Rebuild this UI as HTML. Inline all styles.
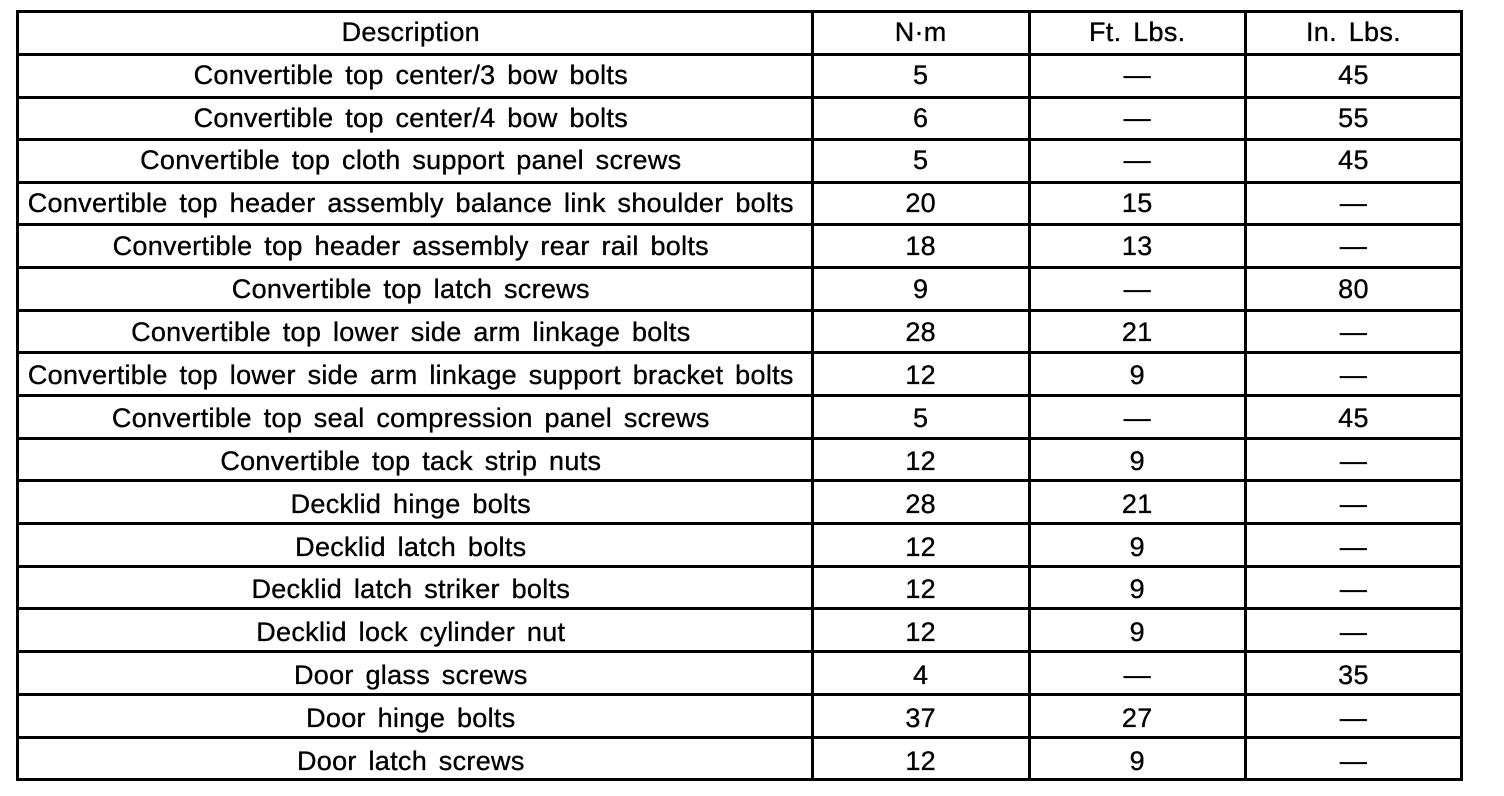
<!DOCTYPE html>
<html><head><meta charset="utf-8"><style>
html,body{margin:0;padding:0;background:#fff;}
body{width:1504px;height:796px;position:relative;overflow:hidden;font-family:"Liberation Sans",Arial,sans-serif;font-size:27px;color:#000;}
.h{position:absolute;left:15.8px;width:1447.2px;height:3px;background:#000;}
.v{position:absolute;top:10.5px;height:770.5px;width:3px;background:#000;}
.r{position:absolute;left:17.3px;height:42.65px;line-height:42.65px;white-space:nowrap;}
.r span{position:absolute;top:0;text-align:center;word-spacing:4px;letter-spacing:0.3px;-webkit-text-stroke:0.35px #000;}
.c1{left:0;width:787px;}
.c2{left:795px;width:216.7px;}
.c3{left:1011.7px;width:216.5px;}
.c4{left:1228.2px;width:216px;}
</style></head><body>
<div class="h" style="top:10.4px"></div>
<div class="h" style="top:52.85px"></div>
<div class="h" style="top:95.5px"></div>
<div class="h" style="top:138.15px"></div>
<div class="h" style="top:180.8px"></div>
<div class="h" style="top:223.45px"></div>
<div class="h" style="top:266.1px"></div>
<div class="h" style="top:308.75px"></div>
<div class="h" style="top:351.4px"></div>
<div class="h" style="top:394.05px"></div>
<div class="h" style="top:436.7px"></div>
<div class="h" style="top:479.35px"></div>
<div class="h" style="top:522px"></div>
<div class="h" style="top:564.65px"></div>
<div class="h" style="top:607.3px"></div>
<div class="h" style="top:649.95px"></div>
<div class="h" style="top:693px"></div>
<div class="h" style="top:736px"></div>
<div class="h" style="top:777.9px"></div>
<div class="v" style="left:15.8px"></div>
<div class="v" style="left:810.8px"></div>
<div class="v" style="left:1027.5px"></div>
<div class="v" style="left:1244px"></div>
<div class="v" style="left:1460px"></div>

<div class="r" style="top:10.7px"><span class="c1">Description</span><span class="c2">N·m</span><span class="c3">Ft. Lbs.</span><span class="c4">In. Lbs.</span></div>
<div class="r" style="top:53.6px"><span class="c1">Convertible top center/3 bow bolts</span><span class="c2">5</span><span class="c3">—</span><span class="c4">45</span></div>
<div class="r" style="top:96.5px"><span class="c1">Convertible top center/4 bow bolts</span><span class="c2">6</span><span class="c3">—</span><span class="c4">55</span></div>
<div class="r" style="top:139.4px"><span class="c1">Convertible top cloth support panel screws</span><span class="c2">5</span><span class="c3">—</span><span class="c4">45</span></div>
<div class="r" style="top:182.3px"><span class="c1">Convertible top header assembly balance link shoulder bolts</span><span class="c2">20</span><span class="c3">15</span><span class="c4">—</span></div>
<div class="r" style="top:225.2px"><span class="c1">Convertible top header assembly rear rail bolts</span><span class="c2">18</span><span class="c3">13</span><span class="c4">—</span></div>
<div class="r" style="top:268.1px"><span class="c1">Convertible top latch screws</span><span class="c2">9</span><span class="c3">—</span><span class="c4">80</span></div>
<div class="r" style="top:311px"><span class="c1">Convertible top lower side arm linkage bolts</span><span class="c2">28</span><span class="c3">21</span><span class="c4">—</span></div>
<div class="r" style="top:353.9px"><span class="c1">Convertible top lower side arm linkage support bracket bolts</span><span class="c2">12</span><span class="c3">9</span><span class="c4">—</span></div>
<div class="r" style="top:396.8px"><span class="c1">Convertible top seal compression panel screws</span><span class="c2">5</span><span class="c3">—</span><span class="c4">45</span></div>
<div class="r" style="top:439.7px"><span class="c1">Convertible top tack strip nuts</span><span class="c2">12</span><span class="c3">9</span><span class="c4">—</span></div>
<div class="r" style="top:482.6px"><span class="c1">Decklid hinge bolts</span><span class="c2">28</span><span class="c3">21</span><span class="c4">—</span></div>
<div class="r" style="top:525.5px"><span class="c1">Decklid latch bolts</span><span class="c2">12</span><span class="c3">9</span><span class="c4">—</span></div>
<div class="r" style="top:568.4px"><span class="c1">Decklid latch striker bolts</span><span class="c2">12</span><span class="c3">9</span><span class="c4">—</span></div>
<div class="r" style="top:611.3px"><span class="c1">Decklid lock cylinder nut</span><span class="c2">12</span><span class="c3">9</span><span class="c4">—</span></div>
<div class="r" style="top:654.2px"><span class="c1">Door glass screws</span><span class="c2">4</span><span class="c3">—</span><span class="c4">35</span></div>
<div class="r" style="top:697.1px"><span class="c1">Door hinge bolts</span><span class="c2">37</span><span class="c3">27</span><span class="c4">—</span></div>
<div class="r" style="top:740px"><span class="c1">Door latch screws</span><span class="c2">12</span><span class="c3">9</span><span class="c4">—</span></div>
</body></html>
